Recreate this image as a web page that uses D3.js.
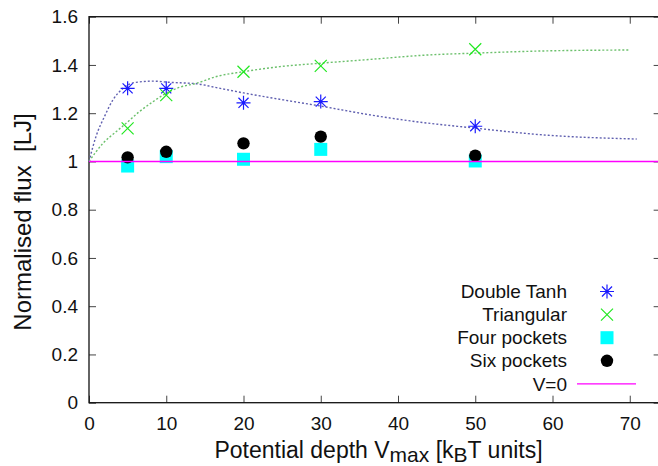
<!DOCTYPE html>
<html><head><meta charset="utf-8">
<script src="https://cdn.jsdelivr.net/npm/d3@7"></script>
<style>
html,body{margin:0;padding:0;background:#fff;}
svg{display:block;font-family:"Liberation Sans",Arial,sans-serif;}
</style></head>
<body>
<svg id="chart" width="658" height="466"></svg>
<script>
// ---- data ----
const xValues = [5, 10, 20, 30, 50];
const doubleTanh = [1.303, 1.303, 1.243, 1.248, 1.146];
const triangular = [1.137, 1.275, 1.372, 1.396, 1.465];
const fourPockets = [0.981, 1.020, 1.009, 1.050, 1.002];
const sixPockets = [1.017, 1.040, 1.075, 1.103, 1.024];

// fitted curves
const fitTanhX = [0, 0.9, 2.0, 3.1, 4.4, 5.9, 8.3, 10.4, 13.9, 16.5, 20.0, 25.2, 29.9, 36.4, 41.6, 50.0, 58.8, 70.9];
const fitTanhY = [1.0, 1.103, 1.186, 1.255, 1.303, 1.327, 1.333, 1.328, 1.322, 1.306, 1.284, 1.255, 1.230, 1.193, 1.168, 1.138, 1.110, 1.093];
const fitTriX = [0, 1.8, 3.5, 4.8, 6.5, 8.3, 10.0, 11.7, 13.9, 16.5, 20.0, 24.7, 29.9, 36.4, 43.7, 50.0, 58.8, 70.0];
const fitTriY = [1.0, 1.075, 1.123, 1.158, 1.206, 1.248, 1.283, 1.307, 1.324, 1.352, 1.372, 1.393, 1.407, 1.423, 1.441, 1.449, 1.458, 1.462];

const xTicks = [0, 10, 20, 30, 40, 50, 60, 70];
const yTicks = [0, 0.2, 0.4, 0.6, 0.8, 1.0, 1.2, 1.4, 1.6];
const legendLabels = ["Double Tanh", "Triangular", "Four pockets", "Six pockets", "V=0"];

// ---- layout ----
const svg = d3.select("#chart");
const plotLeft = 89, plotTop = 16.7, plotBottom = 402.7;
const x = d3.scaleLinear().domain([0, 74]).range([plotLeft, plotLeft + 74 * 7.725]);
const y = d3.scaleLinear().domain([0, 1.6]).range([plotBottom, plotTop]);
const plotRight = x(74);

const blue = "#1a1aff", green = "#22e822", cyan = "#00ffff", magenta = "#ff00ff";

// axes
const fmt = d => (d === 0 || d === 1) ? String(d) : d3.format(".1f")(d);
const gx = svg.append("g").attr("transform", `translate(0,${plotBottom})`)
  .call(d3.axisBottom(x).tickValues(xTicks).tickSize(-7).tickPadding(14).tickFormat(d3.format("d")));
const gxTop = svg.append("g").attr("transform", `translate(0,${plotTop})`)
  .call(d3.axisTop(x).tickValues(xTicks).tickSize(-7).tickFormat(""));
const gy = svg.append("g").attr("transform", `translate(${plotLeft},0)`)
  .call(d3.axisLeft(y).tickValues(yTicks).tickSize(-7).tickPadding(11).tickFormat(fmt));
const gyR = svg.append("g").attr("transform", `translate(${plotRight},0)`)
  .call(d3.axisRight(y).tickValues(yTicks).tickSize(-7).tickFormat(""));
[gx, gxTop, gy, gyR].forEach(g => {
  g.select(".domain").remove();
  g.selectAll(".tick line").attr("stroke", "#444").attr("stroke-width", 1);
  g.selectAll(".tick text").attr("fill", "#111").attr("font-size", 19)
   .attr("font-family", "'Liberation Sans',Arial,sans-serif");
});
gx.selectAll(".tick text").attr("dy", "0.71em");

// border
svg.append("rect").attr("x", plotLeft).attr("y", plotTop).attr("width", plotRight - plotLeft).attr("height", plotBottom - plotTop)
  .attr("fill", "none").attr("stroke", "#111").attr("stroke-width", 1.3);

// fit curves
const line = d3.line().x(d => x(d[0])).y(d => y(d[1])).curve(d3.curveMonotoneX);
svg.append("path").datum(d3.zip(fitTanhX, fitTanhY)).attr("d", line)
  .attr("fill", "none").attr("stroke", "#6060b0").attr("stroke-width", 1.4).attr("stroke-dasharray", "2,2");
svg.append("path").datum(d3.zip(fitTriX, fitTriY)).attr("d", line)
  .attr("fill", "none").attr("stroke", "#6cc06c").attr("stroke-width", 1.4).attr("stroke-dasharray", "2,2");

// marker helpers
function star(g, cx, cy, r) {
  const p = `M${cx - r},${cy}L${cx + r},${cy}M${cx},${cy - r}L${cx},${cy + r}` +
    `M${cx - r * 0.72},${cy - r * 0.72}L${cx + r * 0.72},${cy + r * 0.72}M${cx - r * 0.72},${cy + r * 0.72}L${cx + r * 0.72},${cy - r * 0.72}`;
  g.append("path").attr("d", p).attr("stroke", blue).attr("stroke-width", 1.2).attr("fill", "none");
}
function cross(g, cx, cy, r) {
  const p = `M${cx - r},${cy - r}L${cx + r},${cy + r}M${cx - r},${cy + r}L${cx + r},${cy - r}`;
  g.append("path").attr("d", p).attr("stroke", green).attr("stroke-width", 1.2).attr("fill", "none");
}
function square(g, cx, cy, s) {
  g.append("rect").attr("x", cx - s / 2).attr("y", cy - s / 2).attr("width", s).attr("height", s).attr("fill", cyan);
}
function dot(g, cx, cy, r) {
  g.append("circle").attr("cx", cx).attr("cy", cy).attr("r", r).attr("fill", "#000");
}

const marks = svg.append("g");
xValues.forEach((v, i) => star(marks, x(v), y(doubleTanh[i]), 7));
xValues.forEach((v, i) => cross(marks, x(v), y(triangular[i]), 6));
xValues.forEach((v, i) => square(marks, x(v), y(fourPockets[i]), 13));
xValues.forEach((v, i) => dot(marks, x(v), y(sixPockets[i]), 6.2));

// V=0 line
svg.append("line").attr("x1", x(0)).attr("x2", plotRight).attr("y1", y(1)).attr("y2", y(1))
  .attr("stroke", magenta).attr("stroke-width", 1.4);

// legend
const legX = 567, legMarkX = 607, legY0 = 291.5, legDY = 23.1;
const leg = svg.append("g");
legendLabels.forEach((t, i) => {
  leg.append("text").attr("x", legX).attr("y", legY0 + i * legDY).attr("dy", "0.35em")
    .attr("text-anchor", "end").attr("font-size", 19).attr("fill", "#111").text(t);
});
star(leg, legMarkX, legY0, 7);
cross(leg, legMarkX, legY0 + legDY, 6);
square(leg, legMarkX, legY0 + 2 * legDY, 13);
dot(leg, legMarkX, legY0 + 3 * legDY, 6.2);
leg.append("line").attr("x1", 577).attr("x2", 636).attr("y1", legY0 + 4 * legDY).attr("y2", legY0 + 4 * legDY)
  .attr("stroke", magenta).attr("stroke-width", 1.4);

// axis titles
const xt = svg.append("text").attr("x", 378.5).attr("y", 458).attr("text-anchor", "middle")
  .attr("font-size", 23).attr("fill", "#111");
xt.append("tspan").text("Potential depth V");
xt.append("tspan").attr("dy", 4).attr("font-size", 21).text("max");
xt.append("tspan").attr("dy", -4).text(" [k");
xt.append("tspan").attr("dy", 4).attr("font-size", 21).text("B");
xt.append("tspan").attr("dy", -4).text("T units]");

svg.append("text").attr("transform", "translate(31,222) rotate(-90)").attr("text-anchor", "middle")
  .attr("font-size", 24).attr("fill", "#111").style("white-space", "pre")
  .text("Normalised flux  [LJ]");
</script>
</body></html>
